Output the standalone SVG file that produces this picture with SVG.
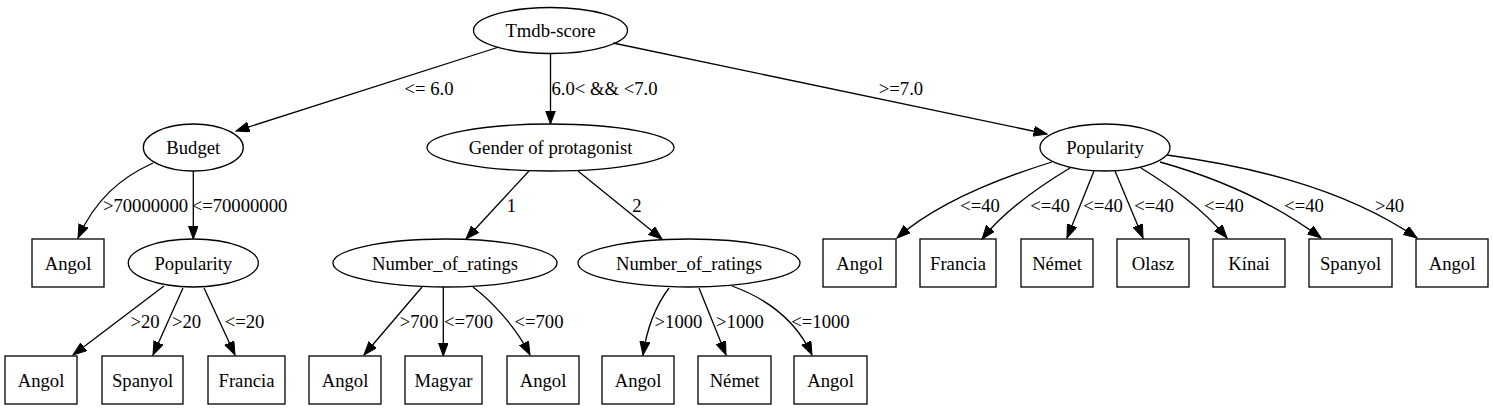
<svg xmlns="http://www.w3.org/2000/svg" width="1493" height="410" viewBox="0 0 1493 410">
<style>
text{font-family:"Liberation Serif",Tinos,"Times New Roman",Times,"Noto Serif","DejaVu Serif","Nimbus Roman","FreeSerif",serif;font-size:18.67px;fill:#000;text-anchor:middle}
.n ellipse,.n rect{fill:none;stroke:#000;stroke-width:1.3}
#edges path{fill:none;stroke:#000;stroke-width:1.3;marker-end:url(#arr)}
</style>
<defs>
<marker id="arr" markerUnits="userSpaceOnUse" markerWidth="16" markerHeight="12" refX="13.5" refY="5" orient="auto">
<polygon points="0,0 13.5,5 0,10" fill="#000" stroke="#000" stroke-width="1"/>
</marker>
</defs>
<rect width="1493" height="410" fill="#fff"/>
<g id="edges">
<path d="M499,47 L236,131"/>
<path d="M550.5,53.5 L550.5,124"/>
<path d="M613,43 L1047,134"/>
<path d="M153,163 C120,178 95,200 78,238"/>
<path d="M193.3,171 L193.3,239"/>
<path d="M164,286 L73,355"/>
<path d="M183,288 L153,355"/>
<path d="M204,288 L235,355"/>
<path d="M529,171 L466,239"/>
<path d="M578,171 L662,239"/>
<path d="M422,287 L364,355"/>
<path d="M443.3,287 L443.3,356"/>
<path d="M473,287 C490,300 515,325 530,355"/>
<path d="M669,288 C660,300 648,320 643,355"/>
<path d="M699,288 L726,355"/>
<path d="M732,286 C765,298 795,318 812,355"/>
<path d="M1052,162 C1010,175 940,200 897,238"/>
<path d="M1070,168 C1040,186 1005,210 982,239"/>
<path d="M1094,171 L1067,238"/>
<path d="M1115,171 L1143,238"/>
<path d="M1141,168 C1170,186 1200,206 1227,238"/>
<path d="M1160,162 C1210,176 1270,200 1321,238"/>
<path d="M1167,155 C1240,165 1340,185 1417,238"/>
<g id="edge-labels">
<text x="429" y="95">&lt;= 6.0</text>
<text x="604.5" y="95">6.0&lt; &amp;&amp; &lt;7.0</text>
<text x="901" y="95">&gt;=7.0</text>
<text x="145.5" y="212">&gt;70000000</text>
<text x="239.5" y="212">&lt;=70000000</text>
<text x="511.5" y="212">1</text>
<text x="637" y="212">2</text>
<text x="980" y="212">&lt;=40</text>
<text x="1050" y="212">&lt;=40</text>
<text x="1103" y="212">&lt;=40</text>
<text x="1154" y="212">&lt;=40</text>
<text x="1224" y="212">&lt;=40</text>
<text x="1304" y="212">&lt;=40</text>
<text x="1389.5" y="212">&gt;40</text>
<text x="145" y="328">&gt;20</text>
<text x="186.5" y="328">&gt;20</text>
<text x="244.5" y="328">&lt;=20</text>
<text x="419" y="328">&gt;700</text>
<text x="468.5" y="328">&lt;=700</text>
<text x="539" y="328">&lt;=700</text>
<text x="678.5" y="328">&gt;1000</text>
<text x="740" y="328">&gt;1000</text>
<text x="820.5" y="328">&lt;=1000</text>
</g>
</g>
<g id="tmdb" class="n"><ellipse cx="550.5" cy="30.5" rx="77" ry="23"/><text x="550.5" y="37">Tmdb-score</text></g>
<g id="budget" class="n"><ellipse cx="193.3" cy="147.5" rx="50" ry="23.5"/><text x="193.3" y="154">Budget</text></g>
<g id="gender" class="n"><ellipse cx="550.5" cy="147.5" rx="123.5" ry="23.5"/><text x="550.5" y="154">Gender of protagonist</text></g>
<g id="popR" class="n"><ellipse cx="1105" cy="147.5" rx="65" ry="23.5"/><text x="1105" y="154">Popularity</text></g>
<g id="angol1" class="n"><rect x="32" y="239" width="72" height="48"/><text x="68" y="270">Angol</text></g>
<g id="popL" class="n"><ellipse cx="193.3" cy="263" rx="65" ry="24"/><text x="193.3" y="270">Popularity</text></g>
<g id="nor1" class="n"><ellipse cx="445" cy="263" rx="112" ry="24"/><text x="445" y="270">Number_of_ratings</text></g>
<g id="nor2" class="n"><ellipse cx="689" cy="263" rx="111" ry="24"/><text x="689" y="270">Number_of_ratings</text></g>
<g id="r_angol1" class="n"><rect x="823" y="239" width="73" height="48"/><text x="859.5" y="270">Angol</text></g>
<g id="r_francia" class="n"><rect x="920" y="239" width="76" height="48"/><text x="958" y="270">Francia</text></g>
<g id="r_nemet" class="n"><rect x="1021" y="239" width="72" height="48"/><text x="1057" y="270">Német</text></g>
<g id="r_olasz" class="n"><rect x="1117" y="239" width="72" height="48"/><text x="1153" y="270">Olasz</text></g>
<g id="r_kinai" class="n"><rect x="1213" y="239" width="72" height="48"/><text x="1249" y="270">Kínai</text></g>
<g id="r_spanyol" class="n"><rect x="1309" y="239" width="83" height="48"/><text x="1350.5" y="270">Spanyol</text></g>
<g id="r_angol2" class="n"><rect x="1416" y="239" width="72" height="48"/><text x="1452" y="270">Angol</text></g>
<g id="b_angol1" class="n"><rect x="5" y="356" width="72" height="48"/><text x="41" y="387">Angol</text></g>
<g id="b_spanyol" class="n"><rect x="102" y="356" width="81" height="48"/><text x="142.5" y="387">Spanyol</text></g>
<g id="b_francia" class="n"><rect x="208" y="356" width="77" height="48"/><text x="246.5" y="387">Francia</text></g>
<g id="b_angol2" class="n"><rect x="309" y="356" width="72" height="48"/><text x="345" y="387">Angol</text></g>
<g id="b_magyar" class="n"><rect x="405" y="356" width="77" height="48"/><text x="443.5" y="387">Magyar</text></g>
<g id="b_angol3" class="n"><rect x="507" y="356" width="72" height="48"/><text x="543" y="387">Angol</text></g>
<g id="b_angol4" class="n"><rect x="602" y="356" width="72" height="48"/><text x="638" y="387">Angol</text></g>
<g id="b_nemet" class="n"><rect x="698" y="356" width="73" height="48"/><text x="734.5" y="387">Német</text></g>
<g id="b_angol5" class="n"><rect x="794" y="356" width="73" height="48"/><text x="830.5" y="387">Angol</text></g>
</svg>
